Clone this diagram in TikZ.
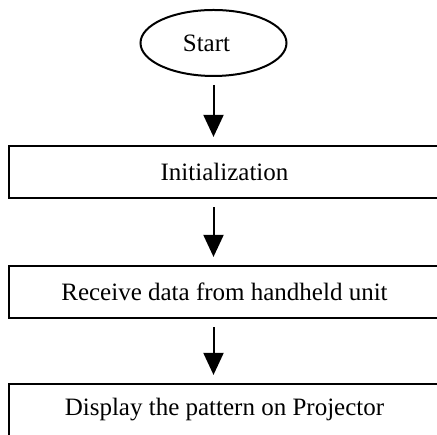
\documentclass[tikz,border=0pt]{standalone}
\usepackage{fontspec}
\setmainfont{Liberation Serif}
\usetikzlibrary{arrows.meta,shapes.geometric}

\begin{document}
\begin{tikzpicture}[x=1pt, y=1pt,
  every node/.style={font=\fontsize{25}{30}\selectfont},
  term/.style={draw, ellipse, line width=2pt, minimum width=146pt, minimum height=66pt, inner sep=0pt},
  stepbox/.style={draw, rectangle, line width=2.2pt, minimum width=431pt, minimum height=52pt, inner sep=0pt},
  flow/.style={line width=2pt, -{Triangle[width=20pt,length=22pt]}, shorten <=8pt, shorten >=8pt}]
\useasboundingbox (0,0) rectangle (437,435);

\node[term] (start) at (213.5,392) {Start\hspace*{14pt}};

\node[stepbox] (init) at (224.5,263) {Initialization};
\node[stepbox] (recv) at (224.5,143) {Receive data from handheld unit};
\node[stepbox] (disp) at (224.5,25) {Display the pattern on Projector};

\draw[flow] (start.south) -- (start.south |- init.north);
\draw[flow] (start.south |- init.south) -- (start.south |- recv.north);
\draw[flow] (start.south |- recv.south) -- (start.south |- disp.north);

\end{tikzpicture}
\end{document}
